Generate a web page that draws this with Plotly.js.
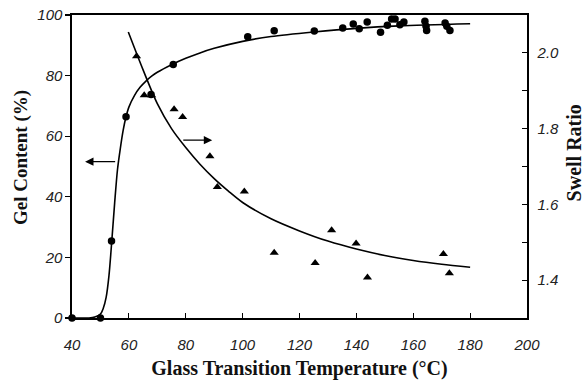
<!DOCTYPE html>
<html>
<head>
<meta charset="utf-8">
<script src="https://cdn.plot.ly/plotly-3.0.1.min.js"></script>
<style>
html,body{margin:0;padding:0;background:#fff;}
#chart{width:586px;height:390px;}
#chart .xtick text, #chart .ytick text, #chart .y2tick text { font-style: italic !important; }
</style>
</head>
<body>
<div id="chart"></div>
<script>
// Gel content data (left axis, %)
var gelT = [40, 50, 53.9, 59, 67.8, 75.6, 101.8, 111.1, 125.2, 135.2, 138.9, 141.0, 143.8, 148.5, 150.9, 152.4, 153.6, 155.3, 156.7, 164.1, 164.5, 164.7, 171.2, 171.8, 172.9];
var gelV = [0, 0, 25.4, 66.4, 73.8, 83.7, 92.8, 94.8, 94.7, 95.7, 97.0, 95.5, 97.7, 94.3, 96.6, 98.7, 98.7, 96.8, 97.7, 97.9, 96.3, 94.9, 97.4, 96.3, 94.9];
// Gel content fitted curve
var gelFitT = [40, 46, 48, 50, 51, 52, 53, 54, 55, 56, 57, 58, 59, 60, 62, 64, 66, 68, 70, 75, 80, 85, 90, 100, 110, 125, 140, 155, 180];
var gelFitV = [0, 0, 0.3, 1.3, 3.2, 6.8, 14, 25.5, 38, 49, 56, 62, 66.4, 69.6, 73.5, 76.2, 78.2, 79.8, 81.1, 83.6, 85.7, 87.5, 89.0, 91.3, 92.9, 94.4, 95.6, 96.4, 97.1];
// Swell ratio data (right axis)
var swellT = [62.7, 65.4, 68.0, 75.9, 78.9, 88.5, 91.1, 100.6, 111.1, 125.5, 131.3, 139.9, 143.9, 170.6, 172.7];
var swellV = [1.991, 1.888, 1.888, 1.851, 1.831, 1.727, 1.646, 1.634, 1.472, 1.445, 1.532, 1.497, 1.407, 1.469, 1.418];
// Swell ratio fitted curve
var swellFitT = [59.8, 65, 70, 75, 80, 85, 90, 95, 100, 110, 120, 130, 140, 150, 160, 170, 180];
var swellFitV = [2.055, 1.955, 1.866, 1.800, 1.750, 1.706, 1.668, 1.635, 1.605, 1.562, 1.530, 1.503, 1.482, 1.465, 1.452, 1.442, 1.434];
// Axis ticks and titles
var xTicks = [40, 60, 80, 100, 120, 140, 160, 180, 200];
var yTicks = [0, 20, 40, 60, 80, 100];
var y2Ticks = [1.4, 1.5, 1.6, 1.7, 1.8, 1.9, 2.0];
var y2TickText = ['1.4', '', '1.6', '', '1.8', '', '2.0'];
var xTitle = 'Glass Transition Temperature (°C)';
var yTitle = 'Gel Content (%)';
var y2Title = 'Swell Ratio';

function ital(a) { return a.map(function (s) { return s === '' ? '' : '<i>' + s + '</i>'; }); }

var traces = [
  {x: gelFitT, y: gelFitV, mode: 'lines', line: {color: '#000', width: 1.6, shape: 'spline', smoothing: 0.8}, hoverinfo: 'skip', showlegend: false},
  {x: swellFitT, y: swellFitV, yaxis: 'y2', mode: 'lines', line: {color: '#000', width: 1.6, shape: 'spline', smoothing: 0.8}, hoverinfo: 'skip', showlegend: false},
  {x: gelT, y: gelV, mode: 'markers', marker: {symbol: 'circle', size: 7.5, color: '#000'}, name: 'Gel Content', showlegend: false, cliponaxis: false},
  {x: swellT, y: swellV, yaxis: 'y2', mode: 'markers', marker: {symbol: 'triangle-up', size: 8, color: '#000'}, name: 'Swell Ratio', showlegend: false}
];

var tickFont = {family: 'Liberation Sans, Arial, sans-serif', size: 15, color: '#222', style: 'italic'};
var serif = 'Liberation Serif, Times New Roman, serif';
var xTitleFont = {family: serif, size: 20, color: '#111', weight: 'bold'};

var layout = {
  width: 586, height: 390,
  margin: {l: 72, r: 59, t: 15, b: 72},
  paper_bgcolor: '#fff', plot_bgcolor: '#fff',
  showlegend: false,
  xaxis: {
    range: [40, 200], tickvals: xTicks, ticktext: ital(xTicks.map(String)),
    ticks: 'inside', ticklen: 5, tickwidth: 1.2, tickcolor: '#000',
    showline: true, linecolor: '#000', linewidth: 1.6, mirror: true,
    showgrid: false, zeroline: false, tickfont: tickFont, ticklabelstandoff: 12,
    title: {text: xTitle, font: xTitleFont, standoff: 9}
  },
  yaxis: {
    range: [0, 100], tickvals: yTicks, ticktext: ital(yTicks.map(String)),
    ticks: 'outside', ticklen: 5, tickwidth: 1.2, tickcolor: '#000',
    showline: true, linecolor: '#000', linewidth: 1.6,
    showgrid: false, zeroline: false, tickfont: tickFont
  },
  yaxis2: {
    overlaying: 'y', side: 'right',
    range: [1.3, 2.1], tickvals: y2Ticks, ticktext: ital(y2TickText),
    ticks: 'inside', ticklen: 5, tickwidth: 1.2, tickcolor: '#000',
    showline: true, linecolor: '#000', linewidth: 1.6,
    showgrid: false, zeroline: false, tickfont: tickFont, ticklabelstandoff: 6
  },
  annotations: [
    {x: 44.6, y: 51.6, ax: 55.7, ay: 51.6, xref: 'x', yref: 'y', axref: 'x', ayref: 'y',
     text: '', showarrow: true, arrowhead: 2, arrowsize: 1.4, arrowwidth: 1.2, arrowcolor: '#000'},
    {x: 89.3, y: 58.7, ax: 78.6, ay: 58.7, xref: 'x', yref: 'y', axref: 'x', ayref: 'y',
     text: '', showarrow: true, arrowhead: 2, arrowsize: 1.4, arrowwidth: 1.2, arrowcolor: '#000'},
    {text: yTitle, xref: 'paper', yref: 'paper', x: -0.112, y: 0.528, xanchor: 'center', yanchor: 'middle',
     textangle: -90, showarrow: false, font: {family: serif, size: 19, color: '#111', weight: 'bold'}},
    {text: y2Title, xref: 'paper', yref: 'paper', x: 1.103, y: 0.546, xanchor: 'center', yanchor: 'middle',
     textangle: -90, showarrow: false, font: {family: serif, size: 20, color: '#111', weight: 'bold'}}
  ]
};

Plotly.newPlot('chart', traces, layout, {displayModeBar: false, staticPlot: true});
</script>
</body>
</html>
